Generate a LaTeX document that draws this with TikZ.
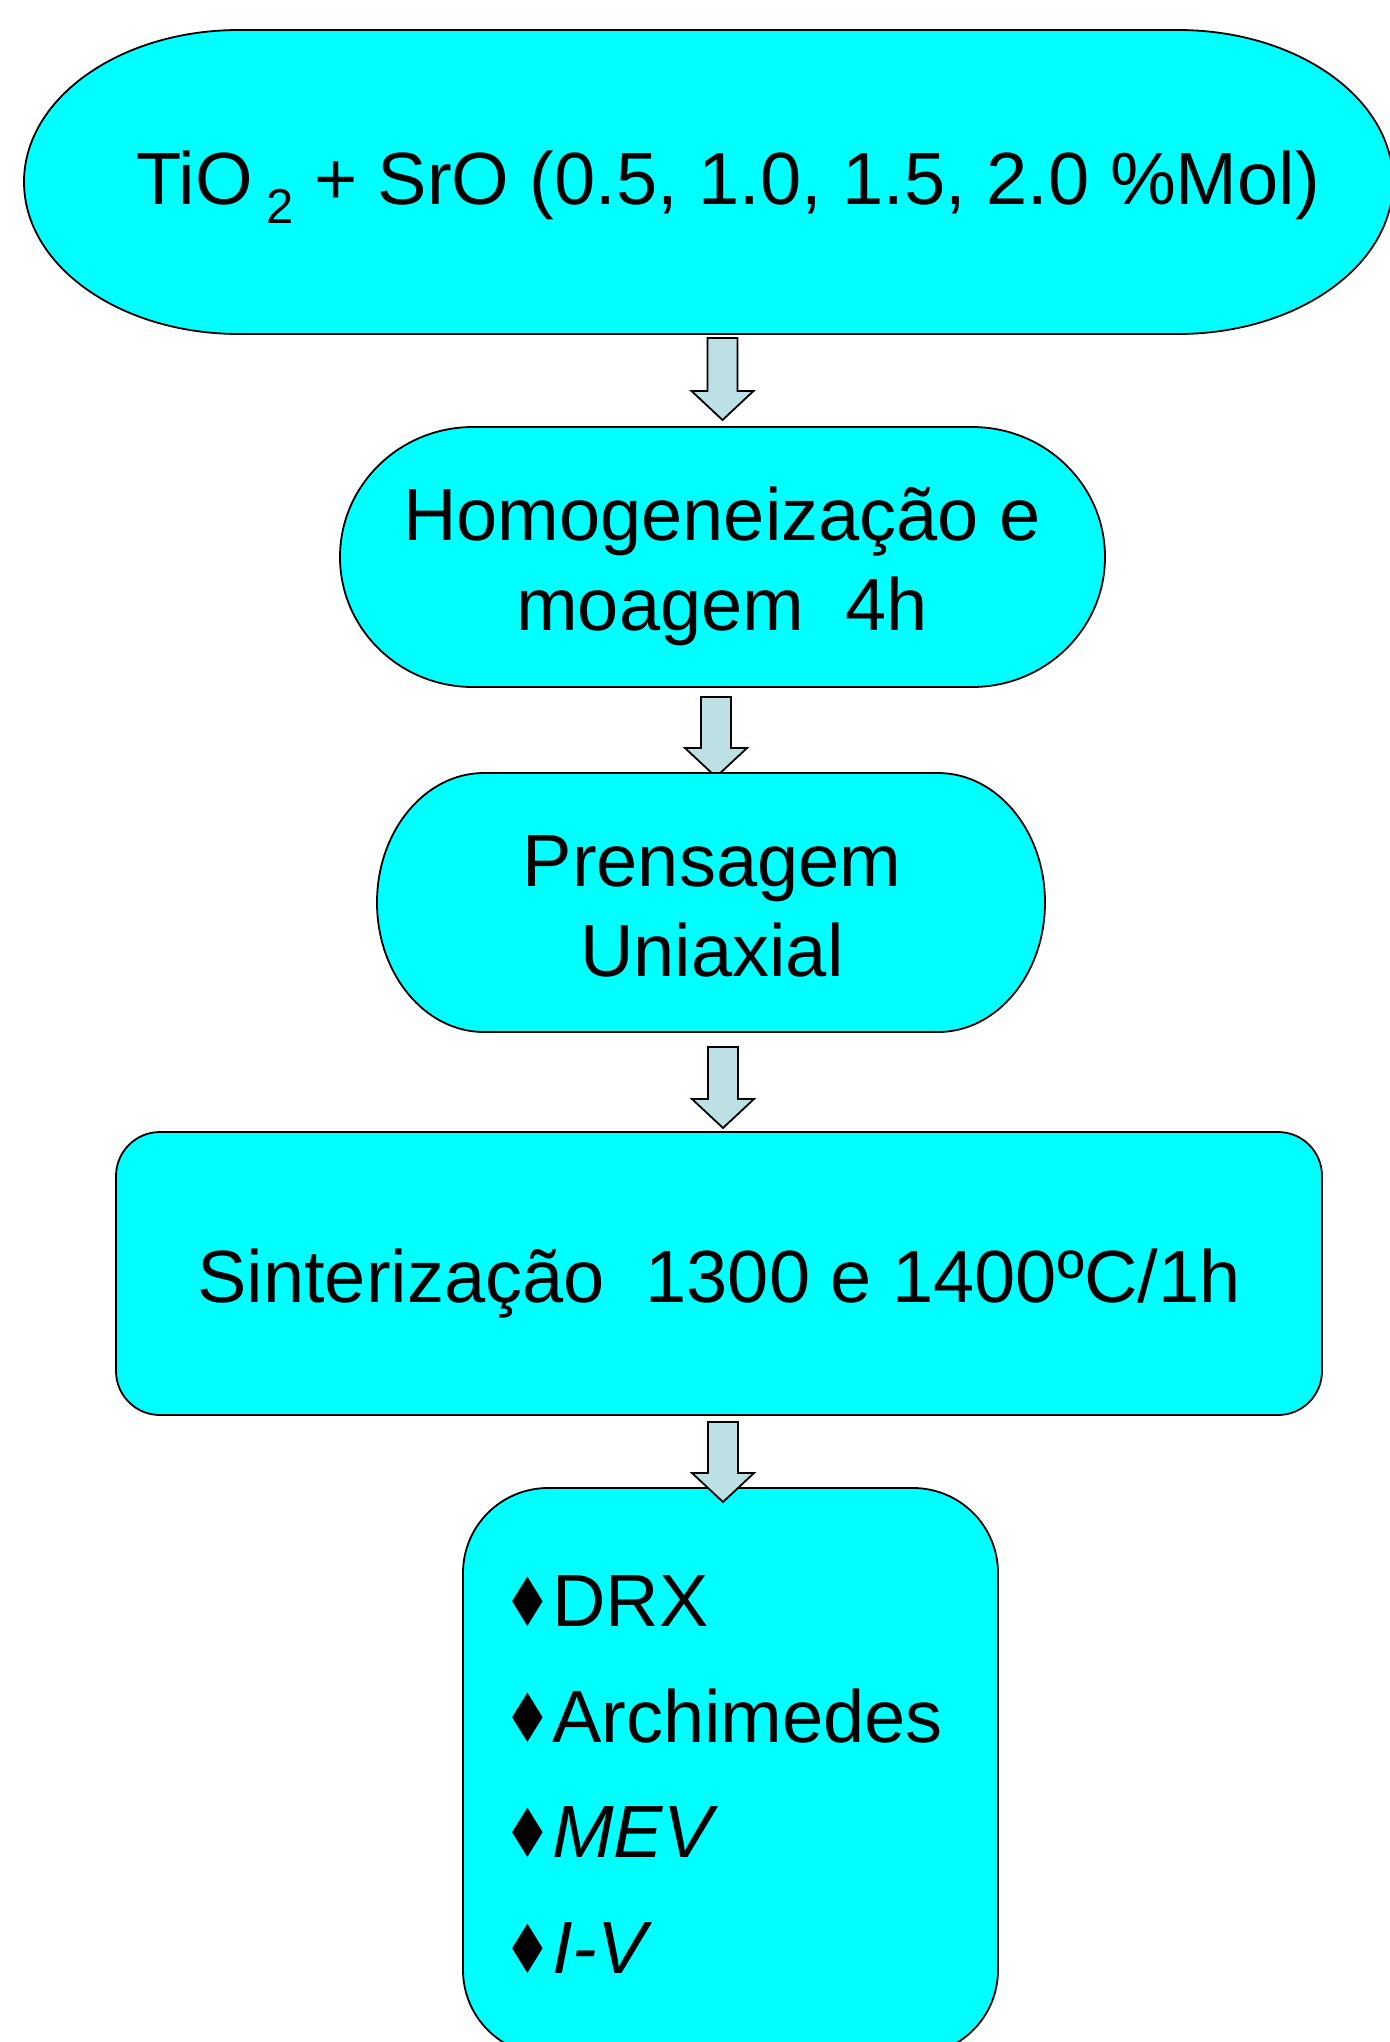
\documentclass[tikz,border=0pt]{standalone}
\usepackage{fontspec}
\setmainfont{Liberation Sans}
\newfontfamily\symfont{DejaVu Sans}
\usetikzlibrary{calc}

\definecolor{boxcyan}{HTML}{00FFFF}
\definecolor{arrowfill}{HTML}{BDE0E4}

\tikzset{
  frame/.style={draw=none, inner sep=0pt, outer sep=0pt},
  boxshape/.style={draw=black, line width=1.8pt, fill=boxcyan},
  arrowshape/.style={draw=black, line width=1.8pt, fill=arrowfill, line join=miter},
  boxtext/.style={inner sep=0pt, font=\fontsize{74}{90}\selectfont},
  listtext/.style={inner sep=0pt, font=\fontsize{74}{115.5}\selectfont},
}

% box outline with elliptical corners: node, x radius, y radius
\newcommand\ovalbox[3]{%
  \path[boxshape] ([xshift=#2pt]#1.north west) -- ([xshift=-#2pt]#1.north east)
    arc[start angle=90,end angle=0,x radius=#2pt,y radius=#3pt]
    -- ([yshift=#3pt]#1.south east)
    arc[start angle=0,end angle=-90,x radius=#2pt,y radius=#3pt]
    -- ([xshift=#2pt]#1.south west)
    arc[start angle=270,end angle=180,x radius=#2pt,y radius=#3pt]
    -- ([yshift=-#3pt]#1.north west)
    arc[start angle=180,end angle=90,x radius=#2pt,y radius=#3pt]
    -- cycle;}

% block arrow from node #1 down to node #2 at x=#3; gap below #1, tip offset above #2
\newcommand\blockarrow[5]{%
  \path[arrowshape] let \p1=(#1.south), \p2=(#2.north) in
    (#3pt-15pt,\y1-#4pt) -- (#3pt+15pt,\y1-#4pt)
    -- (#3pt+15pt,\y2+#5pt+29pt) -- (#3pt+31pt,\y2+#5pt+29pt)
    -- (#3pt,\y2+#5pt)
    -- (#3pt-31pt,\y2+#5pt+29pt) -- (#3pt-15pt,\y2+#5pt+29pt) -- cycle;}

% list bullet
\newcommand\diam{\makebox[42pt][l]{\hspace*{-7pt}\scalebox{0.8}[1]{\symfont\fontsize{68}{68}\selectfont ♦}}}

\begin{document}
\begin{tikzpicture}[x=1pt,y=1pt]
\useasboundingbox (0,0) rectangle (1389,-2042);

% step frames
\node[frame, minimum width=1369pt, minimum height=304pt] (A) at (708.5,-182) {};
\node[frame, minimum width=765pt,  minimum height=260pt] (B) at (722.5,-557) {};
\node[frame, minimum width=668pt,  minimum height=259pt] (C) at (711,-902.5) {};
\node[frame, minimum width=1206pt, minimum height=283pt] (D) at (719,-1273.5) {};
\node[frame, minimum width=535pt,  minimum height=567pt] (E) at (730.5,-1771.5) {};

% outlines and arrows, back to front
\ovalbox{A}{215}{152}
\ovalbox{B}{133}{130}
\blockarrow{A}{B}{722.5}{4}{7}
\blockarrow{B}{C}{716}{10}{-4}
\ovalbox{C}{107}{129.5}
\blockarrow{C}{D}{723}{15}{4}
\ovalbox{D}{44}{44}
\ovalbox{E}{85}{85}
\blockarrow{D}{E}{723}{7}{-14}

% labels (base anchor of a multi-line label = last line)
\node[boxtext, anchor=base] (Atext) at (728,-204)
  {TiO\raisebox{-19pt}{\fontsize{49}{49}\selectfont\ 2} + SrO (0.5, 1.0, 1.5, 2.0 \%Mol)};
\node[boxtext, anchor=base, align=center] (Btext) at (722,-630)
  {Homogeneização e\\moagem\ \ 4h};
\node[boxtext, anchor=base, align=center] (Ctext) at (712,-976)
  {Prensagem\\Uniaxial};
\node[boxtext, anchor=base] (Dtext) at (719,-1302)
  {Sinterização\ \ 1300 e 1400ºC/1h};
\node[listtext, anchor=base west, align=left] (Etext) at (510,-1973)
  {\diam DRX\\\diam Archimedes\\\diam\textit{MEV}\\\diam\textit{I-V}};
\end{tikzpicture}
\end{document}
